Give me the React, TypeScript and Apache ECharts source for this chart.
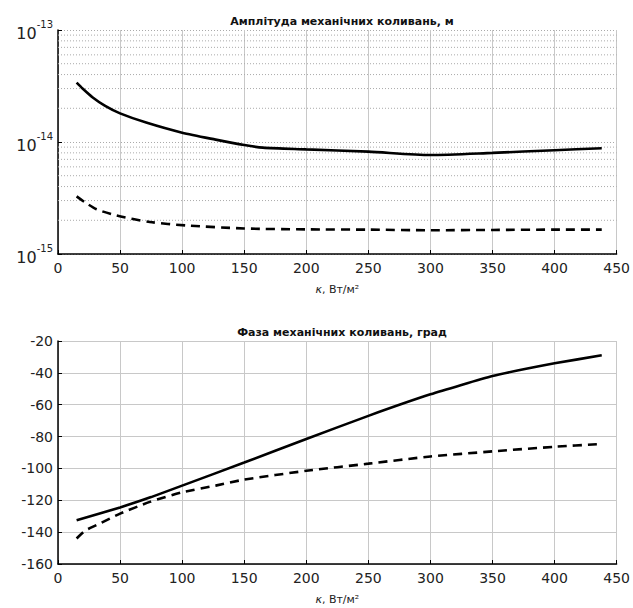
import React, { useEffect, useRef } from "react";
import * as echarts from "echarts";

// Top plot: amplitude (log scale), m
const ampSolidX = [15, 20, 28, 38, 50, 71, 100, 127, 150, 165, 200, 250, 300, 350, 400, 438];
const ampSolidY = [3.39e-14, 2.99e-14, 2.5e-14, 2.1e-14, 1.8e-14, 1.49e-14, 1.21e-14, 1.05e-14, 9.4e-15, 8.9e-15, 8.6e-15, 8.2e-15, 7.65e-15, 8.0e-15, 8.45e-15, 8.8e-15];
const ampDashX = [15, 22, 31, 47, 74, 103, 150, 200, 250, 300, 350, 400, 438];
const ampDashY = [3.27e-15, 2.88e-15, 2.51e-15, 2.21e-15, 1.93e-15, 1.8e-15, 1.69e-15, 1.66e-15, 1.65e-15, 1.63e-15, 1.64e-15, 1.65e-15, 1.65e-15];

// Bottom plot: phase, degrees
const phSolidX = [15, 50, 75, 100, 150, 200, 250, 300, 350, 400, 438];
const phSolidY = [-132.5, -124.5, -118, -110.8, -96.3, -81.5, -67, -53.5, -42, -34, -29];
const phDashX = [15, 22, 31, 50, 74, 100, 127, 150, 200, 250, 300, 350, 400, 435];
const phDashY = [-144, -139, -135.6, -128.4, -121, -115, -110.8, -107, -101.5, -97, -92.5, -89.3, -86.4, -84.8];

// Minor log grid values (2..9 per decade)
const minorLogLines = [2e-15, 3e-15, 4e-15, 5e-15, 6e-15, 7e-15, 8e-15, 9e-15, 2e-14, 3e-14, 4e-14, 5e-14, 6e-14, 7e-14, 8e-14, 9e-14];
const xRange = [0, 450];

const titleTop = "Амплітуда механічних коливань, м";
const titleBottom = "Фаза механічних коливань, град";
const xName = "{i|κ}, Вт/м²";

const FONT = "DejaVu Sans";

const zip = (xs: number[], ys: number[]) => xs.map((x, i) => [x, ys[i]]);

export default function App() {
  const ref = useRef<HTMLDivElement>(null);
  useEffect(() => {
    if (!ref.current) return;
    const chart = echarts.init(ref.current, null, { renderer: "svg" });
    const axisLabel = { color: "#222", fontSize: 14, fontFamily: FONT };
    const xAxisCommon = {
      type: "value",
      min: xRange[0],
      max: xRange[1],
      interval: 50,
      axisLine: { show: true, lineStyle: { color: "#000", width: 1.5 } },
      axisTick: { show: true, inside: true, length: 4, lineStyle: { color: "#000" } },
      axisLabel: { ...axisLabel, margin: 7 },
      splitLine: { show: true, showMinLine: true, showMaxLine: true, lineStyle: { color: "#c8c8c8", width: 1 } },
      name: xName,
      nameLocation: "middle",
      nameGap: 30,
      nameTextStyle: {
        color: "#222",
        fontSize: 11,
        fontFamily: FONT,
        rich: { i: { fontStyle: "italic", fontSize: 11, fontFamily: FONT, color: "#222" } },
      },
    };
    const lineSolid = { color: "#000", width: 2.6, type: "solid" };
    const lineDash = { color: "#000", width: 2.6, type: [9, 6] };
    const minorSeries = minorLogLines.map((v) => ({
      type: "line",
      xAxisIndex: 0,
      yAxisIndex: 0,
      data: [
        [xRange[0], v],
        [xRange[1], v],
      ],
      showSymbol: false,
      silent: true,
      lineStyle: { color: "#aaa", width: 1, type: [1, 2] },
      z: 1,
    }));
    chart.setOption({
      animation: false,
      backgroundColor: "#fff",
      title: [
        {
          text: titleTop,
          left: 337,
          top: 11,
          textAlign: "center",
          textStyle: { fontSize: 11, fontWeight: "bold", fontFamily: FONT, color: "#111" },
        },
        {
          text: titleBottom,
          left: 337,
          top: 322,
          textAlign: "center",
          textStyle: { fontSize: 11, fontWeight: "bold", fontFamily: FONT, color: "#111" },
        },
      ],
      grid: [
        { left: 58, top: 30, width: 559, height: 224, show: false },
        { left: 58, top: 341, width: 559, height: 223, show: false },
      ],
      xAxis: [
        { ...xAxisCommon, gridIndex: 0 },
        { ...xAxisCommon, gridIndex: 1 },
      ],
      yAxis: [
        {
          type: "log",
          logBase: 10,
          min: 1e-15,
          max: 1e-13,
          gridIndex: 0,
          axisLine: { show: true, lineStyle: { color: "#000", width: 1.5 } },
          axisTick: { show: true, inside: true, length: 4, lineStyle: { color: "#000" } },
          splitLine: { show: true, showMinLine: true, showMaxLine: true, lineStyle: { color: "#aaa", width: 1, type: [1, 2] } },
          axisLabel: {
            margin: 5,
            formatter: (v: number) => `{b|10}{s|${Math.round(Math.log10(v))}}`,
            rich: {
              b: { fontSize: 16, color: "#222", fontFamily: FONT, lineHeight: 22, verticalAlign: "bottom" },
              s: { fontSize: 10, color: "#222", fontFamily: FONT, lineHeight: 10, verticalAlign: "top" },
            },
          },
        },
        {
          type: "value",
          min: -160,
          max: -20,
          interval: 20,
          gridIndex: 1,
          axisLine: { show: true, lineStyle: { color: "#000", width: 1.5 } },
          axisTick: { show: true, inside: true, length: 4, lineStyle: { color: "#000" } },
          splitLine: { show: true, showMinLine: true, showMaxLine: true, lineStyle: { color: "#c8c8c8", width: 1 } },
          axisLabel: { ...axisLabel, margin: 5 },
        },
      ],
      series: [
        ...minorSeries,
        {
          type: "line",
          xAxisIndex: 0,
          yAxisIndex: 0,
          data: zip(ampSolidX, ampSolidY),
          showSymbol: false,
          smooth: 0.25,
          lineStyle: lineSolid,
          z: 5,
        },
        {
          type: "line",
          xAxisIndex: 0,
          yAxisIndex: 0,
          data: zip(ampDashX, ampDashY),
          showSymbol: false,
          smooth: 0.25,
          lineStyle: lineDash,
          z: 5,
        },
        {
          type: "line",
          xAxisIndex: 1,
          yAxisIndex: 1,
          data: zip(phSolidX, phSolidY),
          showSymbol: false,
          smooth: 0.15,
          lineStyle: lineSolid,
          z: 5,
        },
        {
          type: "line",
          xAxisIndex: 1,
          yAxisIndex: 1,
          data: zip(phDashX, phDashY),
          showSymbol: false,
          smooth: 0.2,
          lineStyle: lineDash,
          z: 5,
        },
      ],
    });
    return () => chart.dispose();
  }, []);
  return <div ref={ref} style={{ width: 633, height: 608, position: "absolute", left: 0, top: 0 }} />;
}
